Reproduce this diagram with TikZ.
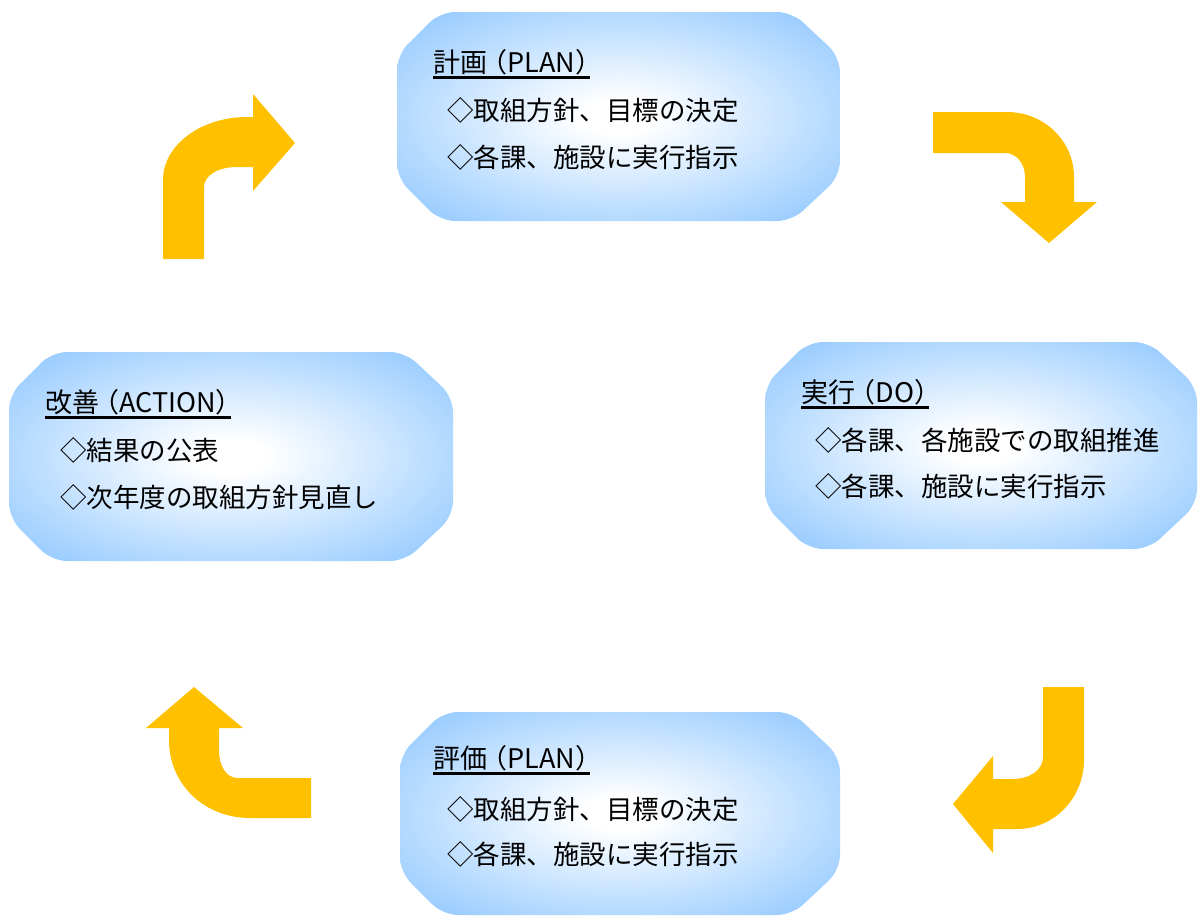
\documentclass[tikz,border=0pt]{standalone}
\usepackage{fontspec}
\setmainfont{Noto Sans CJK JP}
\usepackage{tikz}
\definecolor{boxblue}{RGB}{153,204,255}
\definecolor{arrowgold}{RGB}{255,192,0}
\pgfdeclareradialshading{boxglow}{\pgfpoint{0bp}{0bp}}{color(0bp)=(white); color(4bp)=(white); color(32bp)=(boxblue); color(71bp)=(boxblue)}
\newcommand{\lpar}{\kern-0.25em（}
\newcommand{\rpar}{）\kern-0.45em}
\tikzset{
  pdcabox/.style={shading=boxglow, rounded corners=15pt},
  cyclearrow/.style={fill=arrowgold, draw=none},
  boxtitle/.style={anchor=base west, inner sep=0pt, font=\fontsize{27}{32}\selectfont},
  boxline/.style={anchor=base west, inner sep=0pt, font=\fontsize{26.5}{32}\selectfont},
  titlerule/.style={line width=3pt}
}

\begin{document}
\begin{tikzpicture}[x=1pt,y=-1pt]
            \useasboundingbox (0,0) rectangle (1198,916);
            % boxes
            \path[pdcabox] (440,12) -- (792,12) -- (840,57) -- (840,176) -- (792,221) -- (440,221) -- (397,178) -- (397,55) -- cycle;
            \path[pdcabox] (808,342) -- (1149,342) -- (1197,387) -- (1197,504) -- (1149,549) -- (808,549) -- (765,506) -- (765,385) -- cycle;
            \path[pdcabox] (443,712) -- (792,712) -- (840,757) -- (840,870) -- (792,915) -- (443,915) -- (400,872) -- (400,755) -- cycle;
            \path[pdcabox] (52,352) -- (405,352) -- (453,397) -- (453,516) -- (405,561) -- (52,561) -- (9,518) -- (9,395) -- cycle;
            % plan
            \node[boxtitle] (plantitle) at (433,72) {計画\lpar PLAN\rpar};
            \node[boxline] (planline1) at (447,120) {◇取組方針、目標の決定};
            \node[boxline] (planline2) at (447,167) {◇各課、施設に実行指示};
            \draw[titlerule] ([yshift=-5pt]plantitle.base west) -- ([yshift=-5pt]plantitle.base east);
            % do
            \node[boxtitle] (dotitle) at (801,402) {実行\lpar DO\rpar};
            \node[boxline] (doline1) at (815,450) {◇各課、各施設での取組推進};
            \node[boxline] (doline2) at (815,496) {◇各課、施設に実行指示};
            \draw[titlerule] ([yshift=-5pt]dotitle.base west) -- ([yshift=-5pt]dotitle.base east);
            % check
            \node[boxtitle] (checktitle) at (433,768) {評価\lpar PLAN\rpar};
            \node[boxline] (checkline1) at (447,819) {◇取組方針、目標の決定};
            \node[boxline] (checkline2) at (447,864) {◇各課、施設に実行指示};
            \draw[titlerule] ([yshift=-5pt]checktitle.base west) -- ([yshift=-5pt]checktitle.base east);
            % action
            \node[boxtitle] (acttitle) at (45,412) {改善\lpar ACTION\rpar};
            \node[boxline] (actline1) at (60,460) {◇結果の公表};
            \node[boxline] (actline2) at (60,507) {◇次年度の取組方針見直し};
            \draw[titlerule] ([yshift=-5pt]acttitle.base west) -- ([yshift=-5pt]acttitle.base east);
            % arrows
            \fill[cyclearrow] (163,259) -- (163,180) .. controls (163,145) and (201,117) .. (247,117) -- (253,117) -- (253,94) -- (295,143) -- (253,191) -- (253,167) -- (237,167) .. controls (217,167) and (204,176) .. (204,187) -- (204,259) -- cycle;
            \fill[cyclearrow] (933,112) -- (1007,112) .. controls (1044,112) and (1074,141) .. (1074,177) -- (1074,202) -- (1097,202) -- (1049,243) -- (1001,202) -- (1025,202) -- (1025,177) .. controls (1025,163) and (1016,153) .. (1005,153) -- (933,153) -- cycle;
            \fill[cyclearrow] (1084,687) -- (1084,760) .. controls (1084,798) and (1054,829) .. (1017,829) -- (993,829) -- (993,853) -- (953,804) -- (993,756) -- (993,779) -- (1012,779) .. controls (1030,779) and (1043,770) .. (1043,757) -- (1043,687) -- cycle;
            \fill[cyclearrow] (311,818) -- (250,818) .. controls (205,818) and (169,785) .. (169,740) -- (169,728) -- (146,728) -- (194,687) -- (243,728) -- (219,728) -- (219,750) .. controls (219,766) and (226,778) .. (238,778) -- (311,778) -- cycle;
        \end{tikzpicture}
\end{document}
